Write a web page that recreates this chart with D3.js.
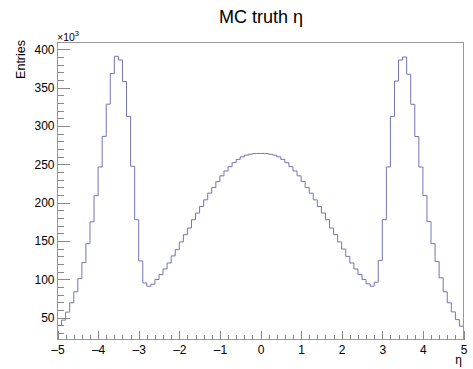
<!DOCTYPE html>
<meta charset="utf-8">
<style>
body { margin: 0; background: #fff; }
svg { display: block; font-family: "Liberation Sans", Arial, sans-serif; }
.axis path { display: none; }
.axis line { stroke: #888; shape-rendering: crispEdges; }
.axis text { fill: #000; font-size: 12px; }
</style>
<body>
<script src="https://cdn.jsdelivr.net/npm/d3@7"></script>
<script>

// MC truth eta, 100 bins from -5 to 5, entries in units of 10^3
var xMin = -5, xMax = 5, nBins = 100;
var entriesK = [
  40.0, 46.9, 57.3, 69.5, 83.8, 101.0, 121.9, 146.6, 175.0, 209.0,
  246.6, 286.5, 328.5, 368.4, 390.9, 386.1, 358.0, 312.5, 247.5, 177.8,
  124.0, 95.4, 91.1, 93.7, 99.8, 106.3, 113.6, 121.4, 130.6, 138.8,
  148.8, 158.3, 167.0, 177.8, 186.5, 195.0, 203.7, 212.4, 219.7, 227.5,
  235.0, 241.4, 247.0, 252.2, 256.5, 259.8, 262.0, 263.2, 264.0, 264.2,
  264.2, 264.0, 263.2, 262.0, 259.8, 256.5, 252.2, 247.0, 241.4, 235.0,
  227.5, 219.7, 212.4, 203.7, 195.0, 186.5, 177.8, 167.0, 158.3, 148.8,
  139.6, 130.0, 121.4, 113.6, 106.3, 99.8, 94.2, 91.1, 96.3, 124.5,
  177.8, 246.6, 312.5, 358.6, 386.0, 390.0, 367.5, 328.3, 286.3, 246.5,
  209.3, 175.3, 146.6, 123.2, 102.0, 83.8, 69.5, 57.6, 47.5, 39.0
];
var xTicks = [-5, -4, -3, -2, -1, 0, 1, 2, 3, 4, 5];
var yTicks = [50, 100, 150, 200, 250, 300, 350, 400];
var yRange = [21.6, 408.9];

var W = 473, H = 369;
var frame = {left: 57.5, right: 463.5, top: 42.5, bottom: 339.5};

var svg = d3.select("body").append("svg")
    .attr("width", W)
    .attr("height", H);

svg.append("rect").attr("width", W).attr("height", H).attr("fill", "#fff");

var x = d3.scaleLinear().domain([xMin, xMax]).range([frame.left, frame.right]);
var y = d3.scaleLinear().domain(yRange).range([frame.bottom, frame.top]);
var fw = frame.right - frame.left, fh = frame.bottom - frame.top;

// minor ticks
var binW = (xMax - xMin) / nBins;
svg.append("g")
    .attr("class", "axis")
    .attr("transform", "translate(0," + frame.bottom + ")")
    .call(d3.axisBottom(x).tickValues(d3.range(xMin, xMax + 0.001, 0.2)).tickSize(-fh * 0.015).tickFormat(""));
svg.append("g")
    .attr("class", "axis")
    .attr("transform", "translate(" + frame.left + ",0)")
    .call(d3.axisLeft(y).tickValues(d3.range(30, 409, 10)).tickSize(-fw * 0.015).tickFormat(""));

// major ticks + labels
svg.append("g")
    .attr("class", "axis")
    .attr("transform", "translate(0," + frame.bottom + ")")
    .call(d3.axisBottom(x).tickValues(xTicks).tickSize(-fh * 0.03).tickPadding(3)
      .tickFormat(function(d) { return d < 0 ? "\u2013" + (-d) : d; }))
    .selectAll("text").attr("y", 6).attr("dy", "0.71em");

svg.append("g")
    .attr("class", "axis")
    .attr("transform", "translate(" + frame.left + ",0)")
    .call(d3.axisLeft(y).tickValues(yTicks).tickSize(-fw * 0.03).tickPadding(3));

// histogram outline
var pts = entriesK.map(function(v, i) { return [xMin + i * binW, v]; });
pts.push([xMax, entriesK[entriesK.length - 1]]);

svg.append("path")
    .datum(pts)
    .attr("fill", "none")
    .attr("stroke", "#7474b6")
    .attr("stroke-width", 1)
    .attr("d", d3.line()
      .x(function(d) { return x(d[0]); })
      .y(function(d) { return y(d[1]); })
      .curve(d3.curveStepAfter));

// frame
svg.append("rect")
    .attr("x", frame.left).attr("y", frame.top)
    .attr("width", fw).attr("height", fh)
    .attr("fill", "none")
    .attr("stroke", "#999")
    .attr("shape-rendering", "crispEdges");

// texts
svg.append("text")
    .attr("x", 261).attr("y", 23)
    .attr("text-anchor", "middle")
    .attr("font-size", 18)
    .text("MC truth \u03b7");

svg.append("text")
    .attr("transform", "translate(25,40) rotate(-90)")
    .attr("text-anchor", "end")
    .attr("font-size", 12.5)
    .text("Entries");

svg.append("text")
    .attr("x", 462).attr("y", 364)
    .attr("text-anchor", "end")
    .attr("font-size", 12)
    .text("\u03b7");

var mult = svg.append("text")
    .attr("x", 57).attr("y", 40.7)
    .attr("font-size", 10.5);
mult.append("tspan").text("\u00d710");
mult.append("tspan").attr("dy", -4.5).attr("font-size", 7.5).text("3");

</script>
</body>
